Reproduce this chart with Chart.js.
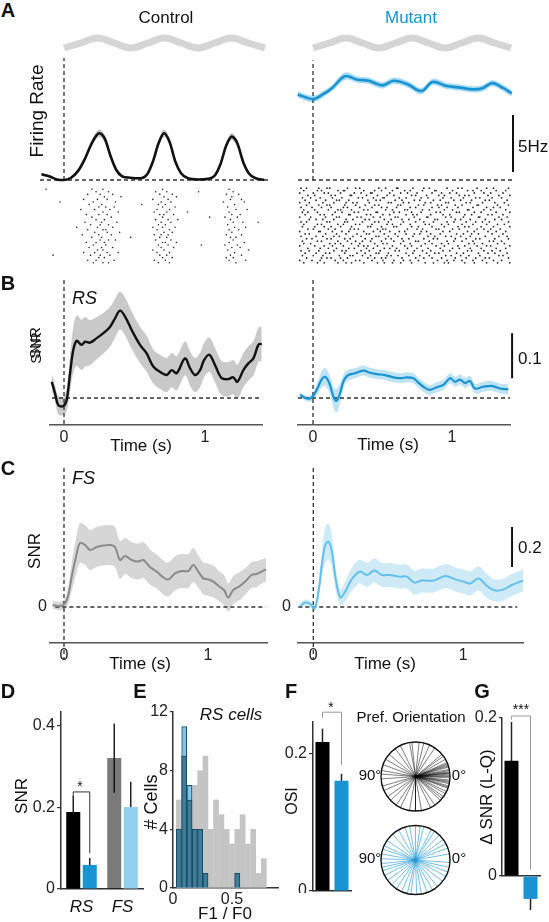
<!DOCTYPE html>
<html>
<head>
<meta charset="utf-8">
<script src="https://cdn.jsdelivr.net/npm/chart.js@4.4.1/dist/chart.umd.min.js"></script>
<style>
  body { margin: 0; background: #fff; }
  #fig { position: relative; width: 549px; height: 922px; overflow: hidden; font-family: Arial, "Liberation Sans", sans-serif; color: #111; }
  #fig canvas { position: absolute; }
  .t { position: absolute; white-space: nowrap; line-height: 1; }
</style>
</head>
<body>
<div id="fig"></div>
<script>
// ---- A: stimulus and firing rate (time in s, rate in Hz)
const stimT = [0, 0.119, 0.238, 0.356, 0.475, 0.594, 0.713, 0.831, 0.95, 1.069, 1.188, 1.306, 1.425];
const stim  = [-1, 0, 1, 0, -1, 0, 1, 0, -1, 0, 1, 0, -1];

const rateCtrlT = [-0.16,-0.1,-0.05,0,0.05,0.1,0.15,0.2,0.25,0.29,0.33,0.37,0.41,0.47,0.54,0.59,0.63,0.67,0.71,0.75,0.79,0.83,0.88,0.95,1.02,1.07,1.11,1.15,1.19,1.23,1.27,1.31,1.36,1.42];
const rateCtrl  = [0.5,0.3,0.05,0,0.2,0.8,1.9,3.3,4.1,3.6,2.1,0.9,0.35,0.2,0.15,0.5,1.6,3.2,4.1,3.3,1.6,0.6,0.15,0.05,0.1,0.4,1.4,3.0,3.8,3.2,1.6,0.6,0.15,0.02];
const rateCtrlErr = [0.1,0.1,0.05,0.05,0.08,0.12,0.2,0.28,0.32,0.3,0.22,0.12,0.08,0.06,0.06,0.08,0.18,0.28,0.32,0.28,0.18,0.1,0.06,0.05,0.05,0.08,0.15,0.25,0.3,0.26,0.16,0.1,0.06,0.05];

const rateMutT = [-0.11,0,0.07,0.14,0.23,0.32,0.4,0.5,0.58,0.68,0.78,0.86,0.96,1.06,1.15,1.22,1.29,1.37,1.43];
const rateMut  = [7.5,7.1,7.5,8.1,9.1,8.8,8.7,8.3,8.7,8.4,7.8,8.6,8.25,8.1,7.95,8.05,8.5,8.05,7.6];
const rateMutErr = [0.28,0.28,0.28,0.28,0.32,0.28,0.28,0.28,0.28,0.28,0.28,0.28,0.28,0.28,0.28,0.28,0.28,0.28,0.28];

// raster spike times, 10 ms units, one row per trial
const rasterCtrl = [
  [-14,19,27,70,118],[22,31,65,73,121,96],[16,25,34,68,77,116,125],[28,71,80,120,40],
  [13,23,30,63,74,119,127],[20,36,69,76,114,129,-4],[17,26,67,72,122,55],[24,29,35,70,79,117],
  [11,21,32,66,75,123,131],[27,38,64,73,118,88],[15,24,30,68,71,78,120,126],[19,33,70,115,124,104],
  [22,28,65,74,81,119],[14,26,37,69,76,121,128,139],[18,25,31,67,72,117],[23,34,63,70,79,122,130,8],
  [16,27,29,66,75,118,125],[21,30,39,71,77,120],[12,24,33,64,69,74,116,127],[19,26,68,73,119,123,47],
  [25,31,36,65,76,121],[15,22,28,70,72,80,118,129],[20,29,67,74,115,124,98],[17,26,34,69,78,120,126],
  [23,27,63,71,117,132],[13,21,30,38,66,75,122],[18,25,32,68,73,119,127,-9],[24,28,70,77,116,121],
  [16,22,35,64,72,118,130],[20,27,31,67,75,123]
];
const rasterMut = [
  [-10,-6,3,9,11,24,30,33,47,52,60,61,72,80,84,97,105,108,119,126,131,142],
  [-8,2,5,17,21,22,36,44,49,57,66,70,79,88,89,101,112,116,122,133,140],
  [-11,-1,7,10,19,29,34,41,42,55,63,68,75,86,93,99,104,117,124,129,138],
  [-5,0,12,15,26,27,38,46,53,58,71,74,82,91,95,106,110,113,127,135,143],
  [-9,-3,4,13,20,32,35,43,50,51,62,67,78,83,94,100,109,118,121,130,137],
  [-7,1,8,16,18,25,39,45,48,59,64,73,77,87,92,102,107,115,125,128,141],
  [-11,-4,6,14,23,28,31,40,54,56,65,69,81,85,96,98,111,114,123,132,139],
  [-6,3,9,11,22,30,37,44,47,61,63,76,80,90,93,103,108,119,120,134,142],
  [-10,-2,5,12,21,24,33,42,49,53,60,70,74,86,91,97,105,116,126,131,136],
  [-8,0,10,17,19,27,36,39,52,57,66,68,79,84,95,101,112,113,124,129,140],
  [-9,-5,2,15,20,29,32,45,46,58,62,71,78,89,92,104,106,117,122,133,143],
  [-7,4,7,13,25,26,38,41,50,55,67,72,75,85,94,99,110,115,127,130,138],
  [-11,-3,8,16,18,31,34,43,48,59,61,73,82,83,96,100,109,120,121,135,141],
  [-4,1,6,14,23,28,37,40,51,56,64,69,77,88,90,103,107,114,125,132,137],
  [-10,-6,9,11,22,24,35,44,47,54,65,74,80,87,97,102,111,118,123,128,142],
  [-8,2,5,17,21,30,33,42,53,57,63,70,81,84,93,98,108,116,126,134,139],
  [-9,0,7,12,19,27,39,41,49,58,60,71,76,86,95,105,110,113,122,131,143],
  [-5,-1,10,15,26,29,32,46,50,52,68,75,79,89,91,101,106,119,124,129,136],
  [-11,3,4,13,20,25,36,43,48,55,62,66,78,82,94,99,112,117,127,133,140],
  [-7,-4,8,16,23,31,38,40,51,59,67,73,77,85,92,104,109,115,120,130,138],
  [-10,1,6,14,18,28,34,45,47,54,61,72,83,88,96,100,107,114,125,135,141],
  [-6,-2,9,12,22,26,37,42,52,56,64,69,80,87,90,103,111,118,121,132,142],
  [-9,2,5,17,24,30,35,41,49,58,65,74,76,84,97,102,108,116,128,131,137],
  [-8,-3,11,15,19,27,33,44,50,53,63,70,81,86,93,98,113,117,123,134,139],
  [-11,0,7,13,21,32,36,39,46,57,66,71,78,89,95,105,110,119,126,129,143],
  [-5,4,10,16,25,29,38,43,51,55,60,68,75,83,92,101,106,114,122,133,140],
  [-10,-4,3,14,20,23,34,40,48,59,62,73,79,85,94,99,112,115,124,130,136],
  [-7,1,8,11,22,31,37,45,47,54,67,72,82,88,91,104,109,120,127,132,141],
  [-9,-1,6,18,26,28,35,41,53,56,61,69,77,84,96,100,107,113,121,135,138],
  [-6,5,9,12,19,24,39,44,49,52,64,74,80,86,93,103,111,118,125,128,142],
  [-11,-2,4,15,21,30,33,42,50,58,65,70,76,90,97,102,108,116,123,131,137],
  [-8,2,7,17,23,27,36,46,51,57,63,71,81,87,95,98,110,117,126,134,143]
];

// ---- B: SNR, RS cells
const snrRsCtrlT = [-0.087,-0.064,-0.04,-0.005,0.019,0.043,0.066,0.09,0.125,0.149,0.184,0.232,0.279,0.326,0.362,0.397,0.433,0.48,0.539,0.586,0.633,0.681,0.728,0.764,0.799,0.858,0.894,0.929,0.965,0.993,1.031,1.071,1.118,1.165,1.2,1.229,1.272,1.307,1.343,1.378,1.402];
const snrRsCtrl  = [0.036,0.011,-0.016,-0.018,-0.004,0.055,0.107,0.127,0.118,0.125,0.123,0.133,0.144,0.158,0.177,0.194,0.181,0.151,0.118,0.099,0.07,0.058,0.051,0.062,0.055,0.088,0.066,0.051,0.062,0.084,0.096,0.073,0.044,0.042,0.046,0.036,0.062,0.077,0.088,0.118,0.121];
const snrRsCtrlErr = [0.018,0.018,0.02,0.02,0.025,0.04,0.05,0.056,0.056,0.055,0.05,0.047,0.045,0.044,0.043,0.042,0.042,0.042,0.04,0.04,0.038,0.038,0.038,0.038,0.038,0.038,0.038,0.038,0.038,0.038,0.038,0.038,0.038,0.038,0.038,0.038,0.038,0.038,0.038,0.038,0.038];

const snrRsMutT = [-0.094,-0.045,-0.01,0.026,0.062,0.086,0.117,0.151,0.17,0.194,0.223,0.254,0.302,0.362,0.41,0.458,0.518,0.578,0.638,0.674,0.722,0.758,0.794,0.837,0.89,0.937,0.986,1.022,1.058,1.094,1.129,1.165,1.225,1.286,1.345,1.405];
const snrRsMut  = [0.007,-0.001,0.001,0.018,0.041,0.047,0.033,-0.001,-0.006,0.01,0.04,0.051,0.055,0.061,0.056,0.053,0.051,0.046,0.044,0.046,0.044,0.034,0.025,0.018,0.024,0.029,0.044,0.036,0.041,0.033,0.038,0.021,0.025,0.027,0.021,0.019];
const snrRsMutErr = [0.006,0.006,0.008,0.012,0.018,0.02,0.02,0.024,0.026,0.022,0.014,0.012,0.011,0.011,0.011,0.011,0.011,0.011,0.011,0.011,0.011,0.011,0.011,0.011,0.011,0.011,0.011,0.011,0.011,0.011,0.011,0.011,0.011,0.011,0.011,0.011];

// ---- C: SNR, FS cells
const snrFsCtrlT = [-0.079,-0.028,0.007,0.03,0.053,0.083,0.111,0.146,0.181,0.227,0.273,0.319,0.354,0.389,0.424,0.47,0.516,0.551,0.597,0.644,0.69,0.725,0.771,0.817,0.863,0.898,0.933,0.968,1.0,1.037,1.083,1.111,1.141,1.176,1.222,1.269,1.303,1.338,1.373,1.403];
const snrFsCtrl  = [0.01,0.005,0.018,0.06,0.15,0.25,0.32,0.31,0.285,0.3,0.307,0.31,0.3,0.235,0.255,0.235,0.227,0.235,0.2,0.177,0.148,0.138,0.168,0.18,0.18,0.21,0.177,0.143,0.138,0.127,0.1,0.085,0.048,0.085,0.105,0.135,0.16,0.165,0.177,0.188];
const snrFsCtrlErr = [0.02,0.02,0.025,0.04,0.07,0.09,0.1,0.1,0.1,0.1,0.1,0.1,0.1,0.095,0.09,0.09,0.09,0.09,0.088,0.085,0.085,0.085,0.085,0.085,0.085,0.085,0.08,0.08,0.08,0.08,0.075,0.075,0.07,0.07,0.07,0.065,0.065,0.065,0.06,0.06];

const snrFsMutT = [-0.087,-0.053,-0.02,0.009,0.036,0.058,0.08,0.102,0.124,0.147,0.18,0.213,0.247,0.28,0.313,0.358,0.407,0.458,0.513,0.569,0.624,0.673,0.724,0.802,0.88,0.947,1.002,1.047,1.102,1.158,1.213,1.269,1.324,1.398];
const snrFsMut  = [0.005,0.022,0.015,-0.007,0.085,0.218,0.31,0.327,0.277,0.152,0.048,0.077,0.127,0.16,0.177,0.16,0.182,0.16,0.16,0.152,0.152,0.122,0.132,0.132,0.155,0.138,0.127,0.118,0.143,0.105,0.082,0.088,0.11,0.132];
const snrFsMutErr = [0.015,0.015,0.015,0.015,0.04,0.07,0.09,0.09,0.08,0.06,0.04,0.05,0.055,0.06,0.06,0.06,0.06,0.06,0.06,0.06,0.06,0.06,0.06,0.06,0.06,0.06,0.06,0.06,0.06,0.06,0.055,0.055,0.055,0.055];

const timeTicks = [0, 1];

// ---- D: mean SNR
const barGroups = ['RS', 'FS'];
const snrBarCtrl = [0.189, 0.321];
const snrBarMut  = [0.059, 0.201];
const snrBarCtrlErr = [0.039, 0.085];
const snrBarMutErr  = [0.017, 0.062];
const snrBarTicks = [0, 0.2, 0.4];

// ---- E: F1/F0 histogram (RS cells)
const f1f0Bins = [0.05,0.095,0.14,0.185,0.23,0.275,0.32,0.365,0.41,0.455,0.5,0.545,0.59,0.635,0.68,0.725,0.77];
const f1f0Ctrl = [6,9,6,7,8,9,4,6,5,4,3,4,5,3,4,1,2];
const f1f0Mut  = [4,11,7,4,4,1,0,0,0,0,0,1,0,0,0,0,0];
const f1f0XTicks = [0, 0.5];
const cellTicks = [0, 4, 8, 12];

// ---- F: OSI and preferred orientation (deg)
const osiGroups = ['Control', 'Mutant'];
const osi = [0.2175, 0.161];
const osiErr = [0.0195, 0.01];
const osiTicks = [0, 0.2];
const prefOriCtrl = [160,165,167,170,172,175,176,177,179,0,2,3,4,5,6,8,10,12,15,18,20,28,33,38,42,48,50,58,63,70,75,80,85,88,92,98,102,108,112,118,122,130,135,140,148,152,158,162,174,171,1,9,11,3];
const prefOriMut  = [5,10,14,18,23,28,31,38,41,45,50,54,60,66,73,78,81,85,89,93,96,99,103,108,113,118,123,128,131,136,140,145,150,155,161,166,170,174,178];

// ---- G: delta SNR (L-Q)
const dSnrGroups = ['Control', 'Mutant'];
const dSnr = [0.146, -0.029];
const dSnrErr = [0.049, 0.014];
const dSnrTicks = [0, 0.2];

// ---------------------------------------------------------------
const BLUE = '#1a93d2';
const fig = document.getElementById('fig');
Chart.defaults.font.family = 'Arial, "Liberation Sans", sans-serif';
Chart.defaults.color = '#111';

function makeChart(b, cfg) {
  const p = Object.assign({pl:0, pt:0, pr:0, pb:0, yw:0, xh:0}, b);
  const w = (p.r - p.l) + p.pl + p.pr + p.yw;
  const h = (p.b - p.t) + p.pt + p.pb + p.xh;
  const cv = document.createElement('canvas');
  cv.width = w; cv.height = h;
  cv.style.left = (p.l - p.yw - p.pl) + 'px';
  cv.style.top = (p.t - p.pt) + 'px';
  cv.style.width = w + 'px'; cv.style.height = h + 'px';
  fig.appendChild(cv);
  const o = cfg.options || {};
  o.responsive = false; o.animation = false; o.devicePixelRatio = 1;
  o.layout = {padding: {left: p.pl, top: p.pt, right: p.pr, bottom: p.pb}};
  o.plugins = Object.assign({legend: {display: false}, tooltip: {enabled: false},
    filler: {propagate: false, drawTime: 'beforeDatasetsDraw'}}, o.plugins || {});
  for (const k in (o.scales || {})) {
    const s = o.scales[k];
    if (s.display === false) continue;
    const horiz = s.position ? (s.position === 'bottom' || s.position === 'top') : k === 'x';
    s.afterFit = sc => {
      if (horiz) { sc.height = p.xh; sc.paddingLeft = 0; sc.paddingRight = 0; }
      else { sc.width = p.yw; sc.paddingTop = 0; sc.paddingBottom = 0; }
    };
  }
  cfg.options = o;
  return new Chart(cv, cfg);
}

function txt(s, x, y, size, o) {
  o = o || {};
  const d = document.createElement('div');
  d.className = 't';
  d.textContent = s;
  d.style.left = x + 'px'; d.style.top = y + 'px';
  d.style.fontSize = size + 'px';
  if (o.bold) d.style.fontWeight = 'bold';
  if (o.italic) d.style.fontStyle = 'italic';
  if (o.color) d.style.color = o.color;
  d.style.transform = 'translate(' + (o.left ? '0' : '-50%') + ',-50%)' + (o.rot ? ' rotate(-90deg)' : '');
  fig.appendChild(d);
}

function pts(ts, vs) { return ts.map((t, i) => ({x: t, y: vs[i]})); }
function series(ts, vs, color, width, extra) {
  return Object.assign({data: pts(ts, vs), showLine: true, borderColor: color, borderWidth: width,
    pointRadius: 0, fill: false, clip: false, tension: 0.35}, extra || {});
}
function band(ts, vs, es, color, extra) {
  return [
    Object.assign({data: ts.map((t, i) => ({x: t, y: vs[i] + es[i]})), showLine: true, borderWidth: 0,
      pointRadius: 0, fill: '+1', backgroundColor: color, tension: 0.35, clip: false}, extra || {}),
    Object.assign({data: ts.map((t, i) => ({x: t, y: vs[i] - es[i]})), showLine: true, borderWidth: 0,
      pointRadius: 0, fill: false, tension: 0.35, clip: false}, extra || {})
  ];
}
function dashed(a, b) {
  return {data: [a, b], showLine: true, borderColor: '#333', borderWidth: 1.3, borderDash: [4, 3],
    pointRadius: 0, fill: false, clip: false};
}
function scaleBar(t, y0, y1) {
  return {data: [{x: t, y: y0}, {x: t, y: y1}], showLine: true, borderColor: '#111', borderWidth: 2,
    pointRadius: 0, fill: false, clip: false};
}
function rasterSet(rows, r) {
  const d = [];
  rows.forEach((row, i) => row.forEach(v => d.push({x: v / 100, y: i})));
  return {data: d, pointRadius: r, pointBackgroundColor: '#2a2a2a', pointBorderWidth: 0, clip: false};
}
function timeX(min, max) {
  return {type: 'linear', min, max, grid: {display: false, drawTicks: false},
    border: {display: true, color: '#555', width: 1.5},
    ticks: {font: {size: 16}, color: '#222', padding: 3, callback: v => String(v)},
    afterBuildTicks: s => { s.ticks = timeTicks.map(value => ({value})); }};
}
function zeroY(min, max, pad) {
  return {type: 'linear', min, max, position: 'left', grid: {display: false, drawTicks: false},
    border: {display: false}, ticks: {font: {size: 16}, color: '#222', padding: pad},
    afterBuildTicks: s => { s.ticks = [{value: 0}]; }};
}
function valY(min, max, ticks, tl) {
  return {type: 'linear', min, max, position: 'left',
    grid: {display: true, drawOnChartArea: false, drawTicks: true, tickLength: tl, color: '#333', lineWidth: 1.2},
    border: {display: true, color: '#333', width: 1.5},
    ticks: {font: {size: 16}, color: '#222', padding: 2, callback: v => (v === 0 ? '0' : String(v))},
    afterBuildTicks: s => { s.ticks = ticks.map(value => ({value})); }};
}
function errPlugin(sets, color) {
  return {id: 'errBars', beforeDatasetsDraw(chart) {
    const ctx = chart.ctx, ys = chart.scales.y;
    sets.forEach(([di, errs]) => {
      chart.getDatasetMeta(di).data.forEach((bar, i) => {
        const v = chart.data.datasets[di].data[i];
        ctx.save(); ctx.strokeStyle = color; ctx.lineWidth = 1.5;
        ctx.beginPath();
        ctx.moveTo(bar.x, ys.getPixelForValue(v + errs[i]));
        ctx.lineTo(bar.x, ys.getPixelForValue(v - errs[i]));
        ctx.stroke(); ctx.restore();
      });
    });
  }};
}
function bracketPlugin(c) {
  return {id: 'bracket', afterDatasetsDraw(chart) {
    const ctx = chart.ctx, ys = chart.scales.y;
    const a = chart.getDatasetMeta(c.from[0]).data[c.from[1]];
    const b = chart.getDatasetMeta(c.to[0]).data[c.to[1]];
    ctx.save(); ctx.strokeStyle = c.color; ctx.lineWidth = 1;
    ctx.beginPath();
    ctx.moveTo(a.x, ys.getPixelForValue(c.legA));
    ctx.lineTo(a.x, ys.getPixelForValue(c.top));
    ctx.lineTo(b.x, ys.getPixelForValue(c.top));
    ctx.lineTo(b.x, ys.getPixelForValue(c.legB));
    ctx.stroke(); ctx.restore();
  }};
}
const ring = {id: 'ring', afterDatasetsDraw(chart) {
  const ctx = chart.ctx, xs = chart.scales.x, ys = chart.scales.y;
  const cx = xs.getPixelForValue(0), cy = ys.getPixelForValue(0);
  const r = xs.getPixelForValue(1) - cx;
  ctx.save(); ctx.strokeStyle = '#111'; ctx.lineWidth = 1.4;
  ctx.beginPath(); ctx.arc(cx, cy, r, 0, Math.PI * 2); ctx.stroke(); ctx.restore();
}};

// ---------------- A ----------------
const rateY = {display: false, min: -0.263, max: 13.33};
const stimY = {type: 'linear', display: false, min: -28, max: 3};
makeChart({l: 40, t: 28, r: 270, b: 183, pl: 4, pt: 4, pr: 4, pb: 4}, {
  type: 'scatter',
  data: {datasets: [
    series(rateCtrlT, rateCtrl, '#111', 2.6, {cubicInterpolationMode: 'monotone'}),
    dashed({x: 0, y: 0}, {x: 0, y: 10.7}),
    dashed({x: -0.17, y: 0}, {x: 1.46, y: 0}),
    ...band(rateCtrlT, rateCtrl, rateCtrlErr, '#c4c4c4', {cubicInterpolationMode: 'monotone'}),
    series(stimT, stim, '#d5d5d5', 7, {yAxisID: 'y2', tension: 0.4})
  ]},
  options: {scales: {x: {type: 'linear', display: false, min: -0.1702, max: 1.461}, y: rateY, y2: stimY}}
});
makeChart({l: 297, t: 28, r: 514, b: 183, pl: 4, pt: 4, pr: 8, pb: 4}, {
  type: 'scatter',
  data: {datasets: [
    series(rateMutT, rateMut, BLUE, 2.6),
    dashed({x: 0, y: 0}, {x: 0, y: 10.5}),
    dashed({x: -0.108, y: 0}, {x: 1.44, y: 0}),
    scaleBar(1.439, 0.7, 5.7),
    ...band(rateMutT, rateMut, rateMutErr, '#a9dcf3'),
    series(stimT, stim, '#d5d5d5', 7, {yAxisID: 'y2', tension: 0.4})
  ]},
  options: {scales: {x: {type: 'linear', display: false, min: -0.1151, max: 1.446}, y: rateY, y2: stimY}}
});
// rasters
makeChart({l: 40, t: 186, r: 270, b: 266, pl: 2, pt: 2, pr: 2, pb: 2}, {
  type: 'scatter',
  data: {datasets: [rasterSet(rasterCtrl, 0.8)]},
  options: {scales: {x: {type: 'linear', display: false, min: -0.1702, max: 1.461},
    y: {display: false, min: -0.5, max: rasterCtrl.length - 0.5, reverse: true}}}
});
makeChart({l: 297, t: 185, r: 514, b: 266, pl: 2, pt: 2, pr: 2, pb: 2}, {
  type: 'scatter',
  data: {datasets: [rasterSet(rasterMut, 0.9)]},
  options: {scales: {x: {type: 'linear', display: false, min: -0.1151, max: 1.446},
    y: {display: false, min: -0.5, max: rasterMut.length - 0.5, reverse: true}}}
});

// ---------------- B ----------------
const snrYB = {display: false, min: -0.06, max: 0.2622};
makeChart({l: 50, t: 280, r: 262, b: 425, pl: 4, pt: 4, pr: 4, xh: 30}, {
  type: 'scatter',
  data: {datasets: [
    series(snrRsCtrlT, snrRsCtrl, '#111', 2.4),
    dashed({x: 0, y: 0.2622}, {x: 0, y: -0.06}),
    dashed({x: -0.085, y: 0}, {x: 1.404, y: 0}),
    ...band(snrRsCtrlT, snrRsCtrl, snrRsCtrlErr, '#c9c9c9')
  ]},
  options: {scales: {x: timeX(-0.0993, 1.404), y: snrYB}}
});
makeChart({l: 298, t: 280, r: 510, b: 425, pl: 4, pt: 4, pr: 30, xh: 30}, {
  type: 'scatter',
  data: {datasets: [
    series(snrRsMutT, snrRsMut, BLUE, 2.2),
    dashed({x: 0, y: 0.2622}, {x: 0, y: -0.06}),
    dashed({x: -0.108, y: 0}, {x: 1.417, y: 0}),
    scaleBar(1.432, 0.044, 0.144),
    ...band(snrRsMutT, snrRsMut, snrRsMutErr, '#bde3f5')
  ]},
  options: {scales: {x: timeX(-0.108, 1.417), y: snrYB}}
});

// ---------------- C ----------------
makeChart({l: 50, t: 468, r: 267, b: 643, pt: 4, pr: 4, yw: 14, xh: 30}, {
  type: 'scatter',
  data: {datasets: [
    series(snrFsCtrlT, snrFsCtrl, '#8a8a8a', 2),
    dashed({x: 0, y: 0.695}, {x: 0, y: -0.265}),
    dashed({x: -0.06, y: 0}, {x: 1.40, y: 0}),
    ...band(snrFsCtrlT, snrFsCtrl, snrFsCtrlErr, '#d6d6d6')
  ]},
  options: {scales: {x: timeX(-0.0972, 1.41), y: zeroY(-0.18, 0.695, 3)}}
});
makeChart({l: 298, t: 468, r: 523, b: 643, pt: 4, pr: 6, yw: 16, xh: 30}, {
  type: 'scatter',
  data: {datasets: [
    series(snrFsMutT, snrFsMut, '#62c0ea', 2),
    dashed({x: 0, y: 0.695}, {x: 0, y: -0.265}),
    dashed({x: -0.1, y: 0}, {x: 1.36, y: 0}),
    scaleBar(1.325, 0.2, 0.4),
    ...band(snrFsMutT, snrFsMut, snrFsMutErr, '#cfeaf7')
  ]},
  options: {scales: {x: timeX(-0.102, 1.398), y: zeroY(-0.18, 0.695, 7)}}
});

// ---------------- D ----------------
makeChart({l: 61, t: 712, r: 143, b: 889, pt: 4, pr: 4, yw: 40, xh: 30}, {
  type: 'bar',
  data: {labels: barGroups, datasets: [
    {data: snrBarCtrl, backgroundColor: ['#000', 'rgba(0,0,0,0.52)'], categoryPercentage: 0.805, barPercentage: 0.85},
    {data: snrBarMut, backgroundColor: [BLUE, '#8fd0ee'], categoryPercentage: 0.805, barPercentage: 0.85}
  ]},
  options: {scales: {
    x: {grid: {display: false, drawTicks: false}, border: {color: '#333', width: 1.5},
      ticks: {font: {size: 17, style: 'italic'}, color: '#111', padding: 8}},
    y: valY(0, 0.434, snrBarTicks, 4)
  }},
  plugins: [errPlugin([[0, snrBarCtrlErr], [1, snrBarMutErr]], '#222'),
    bracketPlugin({from: [0, 0], to: [1, 0], top: 0.238, legA: 0.226, legB: 0.088, color: '#333'})]
});

// ---------------- E ----------------
const f1f0Both = f1f0Ctrl.map((v, i) => Math.min(v, f1f0Mut[i]));
function binSet(vals, extra) {
  return Object.assign({data: f1f0Bins.map((x, i) => ({x, y: vals[i] || null})),
    barThickness: 5, grouped: false}, extra);
}
makeChart({l: 173, t: 712, r: 278, b: 888, pt: 10, pr: 4, yw: 24, xh: 20}, {
  type: 'bar',
  data: {datasets: [
    binSet(f1f0Both, {backgroundColor: '#3e7d9a', borderColor: '#1c4a60', borderWidth: 1, order: 1}),
    binSet(f1f0Mut, {backgroundColor: '#7cc8ec', borderColor: '#1c4a60', borderWidth: 1, order: 2}),
    binSet(f1f0Ctrl, {backgroundColor: '#c4c4c4', order: 3})
  ]},
  options: {scales: {
    x: {type: 'linear', min: 0, max: 0.89, offset: false, grid: {display: false, drawTicks: false},
      border: {color: '#333', width: 1.5}, ticks: {font: {size: 16}, color: '#222', padding: 2, callback: v => String(v)},
      afterBuildTicks: s => { s.ticks = f1f0XTicks.map(value => ({value})); }},
    y: valY(0, 12, cellTicks, 3)
  }}
});

// ---------------- F ----------------
makeChart({l: 313, t: 722, r: 351, b: 891, pt: 20, pr: 4, yw: 30, xh: 2}, {
  type: 'bar',
  data: {labels: osiGroups, datasets: [
    {data: osi, backgroundColor: ['#000', BLUE], categoryPercentage: 0.9, barPercentage: 0.82}
  ]},
  options: {scales: {
    x: {ticks: {display: false}, grid: {display: false, drawTicks: false}, border: {color: '#333', width: 1.5}},
    y: valY(0, 0.2467, osiTicks, 4)
  }},
  plugins: [errPlugin([[0, osiErr]], '#222'),
    bracketPlugin({from: [0, 0], to: [0, 1], top: 0.261, legA: 0.253, legB: 0.184, color: '#999'})]
});
function oriSets(list, color) {
  return list.map(o => {
    const a = 2 * o * Math.PI / 180;
    return {data: [{x: 0, y: 0}, {x: Math.cos(a), y: Math.sin(a)}], showLine: true,
      borderColor: color, borderWidth: 1, pointRadius: 0, clip: false};
  });
}
const unit = {display: false, min: -1, max: 1};
makeChart({l: 381, t: 742, r: 450, b: 811, pl: 3, pt: 3, pr: 3, pb: 3}, {
  type: 'scatter', data: {datasets: oriSets(prefOriCtrl, 'rgba(0,0,0,0.5)')},
  options: {scales: {x: unit, y: unit}}, plugins: [ring]
});
makeChart({l: 381, t: 825, r: 450, b: 895, pl: 3, pt: 3, pr: 3, pb: 3}, {
  type: 'scatter', data: {datasets: oriSets(prefOriMut, 'rgba(26,150,212,0.6)')},
  options: {scales: {x: unit, y: unit}}, plugins: [ring]
});

// ---------------- G ----------------
makeChart({l: 502, t: 718, r: 540, b: 876, pt: 10, pr: 6, pb: 40, yw: 30, xh: 2}, {
  type: 'bar',
  data: {labels: dSnrGroups, datasets: [
    {data: dSnr, backgroundColor: ['#000', BLUE], categoryPercentage: 0.9, barPercentage: 0.82, clip: false}
  ]},
  options: {scales: {
    x: {ticks: {display: false}, grid: {display: false, drawTicks: false}, border: {color: '#333', width: 1.5}},
    y: valY(0, 0.2, dSnrTicks, 3)
  }},
  plugins: [errPlugin([[0, dSnrErr]], '#222'),
    bracketPlugin({from: [0, 0], to: [0, 1], top: 0.2025, legA: 0.198, legB: 0.008, color: '#999'})]
});

// ---------------- text ----------------
txt('A', 8, 10, 20, {bold: true});
txt('Control', 166, 17, 17);
txt('Mutant', 411, 17, 17, {color: BLUE});
txt('Firing Rate', 36, 111, 19, {rot: true});
txt('5Hz', 518, 146, 17, {left: true});
txt('B', 8, 283, 20, {bold: true});
txt('RS', 72, 298, 18, {italic: true, left: true});
txt('SNR', 34, 343, 15, {rot: true});
txt('SNR', 35, 348, 15, {rot: true});
txt('Time (s)', 141, 445, 17);
txt('Time (s)', 388, 444, 17);
txt('0.1', 518, 358, 17, {left: true});
txt('C', 8, 468, 20, {bold: true});
txt('FS', 72, 478, 18, {italic: true, left: true});
txt('SNR', 34, 551, 17, {rot: true});
txt('Time (s)', 140, 663, 17);
txt('Time (s)', 385, 663, 17);
txt('0.2', 518, 547, 17, {left: true});
txt('D', 8, 691, 20, {bold: true});
txt('SNR', 21, 796, 17, {rot: true});
txt('*', 80, 786, 14);
txt('E', 140, 691, 20, {bold: true});
txt('RS cells', 231, 714, 17, {italic: true});
txt('# Cells', 151, 802, 18, {rot: true});
txt('F1 / F0', 225, 913, 17);
txt('F', 291, 691, 20, {bold: true});
txt('*', 331, 707, 14);
txt('OSI', 292, 801, 16, {rot: true});
txt('Pref. Orientation', 411, 716, 15);
txt('90°', 370, 774, 15);
txt('0°', 459, 774, 15);
txt('90°', 370, 857, 15);
txt('0°', 459, 857, 15);
txt('G', 482, 691, 20, {bold: true});
txt('***', 521, 709, 14);
txt('Δ SNR (L-Q)', 486, 797, 17, {rot: true});
</script>
</body>
</html>
